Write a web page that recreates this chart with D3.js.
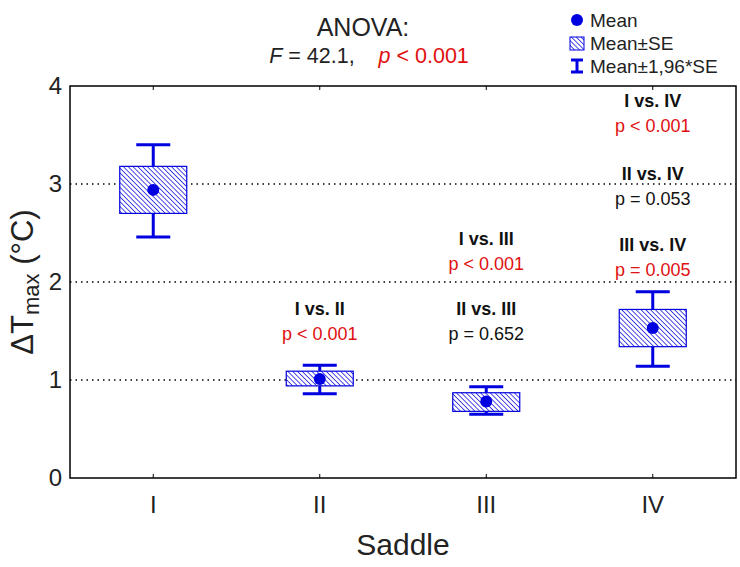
<!DOCTYPE html>
<html><head><meta charset="utf-8">
<script src="https://cdn.jsdelivr.net/npm/d3@7"></script>
<style>body{margin:0;background:#fff}text{font-family:"Liberation Sans",Arial,sans-serif}</style>
</head><body><svg id="c" width="740" height="567"></svg>
<script>
const categories = ["I","II","III","IV"];
const means   = [2.94, 1.01, 0.78, 1.53];
const seLow   = [2.70, 0.94, 0.68, 1.34];
const seHigh  = [3.18, 1.09, 0.87, 1.72];
const ciLow   = [2.46, 0.86, 0.65, 1.14];
const ciHigh  = [3.40, 1.15, 0.93, 1.90];
const yTicks  = [0,1,2,3,4];
const gridVals = [1,2,3];
const comparisons = [
  {cat:"II",  y:1.66, label:"I vs. II",   p:"p < 0.001", sig:true},
  {cat:"III", y:2.38, label:"I vs. III",  p:"p < 0.001", sig:true},
  {cat:"III", y:1.66, label:"II vs. III", p:"p = 0.652", sig:false},
  {cat:"IV",  y:3.79, label:"I vs. IV",   p:"p < 0.001", sig:true},
  {cat:"IV",  y:3.04, label:"II vs. IV",  p:"p = 0.053", sig:false},
  {cat:"IV",  y:2.32, label:"III vs. IV", p:"p = 0.005", sig:true}
];
const legendLabels = ["Mean","Mean±SE","Mean±1,96*SE"];

const svg = d3.select("#c");
const L=70, R=736, T=86, B=478;
const blue="#0000e0", red="#e01010";
const x = d3.scaleBand().domain(categories).range([L,R]);
const y = d3.scaleLinear().domain([0,4]).range([B,T]);

const defs = svg.append("defs");
const pat = defs.append("pattern").attr("id","hatch").attr("patternUnits","userSpaceOnUse")
  .attr("width",3.4).attr("height",3.4).attr("patternTransform","rotate(-45)");
pat.append("rect").attr("width",3.4).attr("height",3.4).attr("fill","#fff");
pat.append("line").attr("x1",0).attr("y1",0).attr("x2",0).attr("y2",3.4).attr("stroke",blue).attr("stroke-width",1.4);

// grid
svg.append("g").selectAll("line").data(gridVals).join("line")
  .attr("x1",L).attr("x2",R).attr("y1",d=>y(d)).attr("y2",d=>y(d))
  .attr("stroke","#000").attr("stroke-width",1.3).attr("stroke-dasharray","1.5,4");

// y axis labels
const ya = svg.append("g").attr("transform",`translate(${L},0)`)
  .call(d3.axisLeft(y).tickValues(yTicks).tickSize(0).tickPadding(8).tickFormat(d3.format("d")));
ya.select(".domain").remove();
ya.selectAll("text").attr("font-size",24).attr("fill","#222").attr("font-family","Liberation Sans, Arial, sans-serif");

// x axis
const xa = svg.append("g").attr("transform",`translate(0,${B})`)
  .call(d3.axisBottom(x).tickSize(-4).tickPadding(18));
xa.select(".domain").remove();
xa.selectAll("line").attr("stroke","#000");
xa.selectAll("text").attr("font-size",24).attr("fill","#222").attr("font-family","Liberation Sans, Arial, sans-serif");
const xt = svg.append("g").attr("transform",`translate(0,${T})`)
  .call(d3.axisTop(x).tickSize(-4).tickFormat(""));
xt.select(".domain").remove();
xt.selectAll("line").attr("stroke","#000");

// frame
svg.append("rect").attr("x",L).attr("y",T).attr("width",R-L).attr("height",B-T)
  .attr("fill","none").attr("stroke","#000").attr("stroke-width",1.5);

// boxes
const bw = 67, cw = 34;
const g = svg.append("g").selectAll("g").data(categories).join("g")
  .attr("transform",d=>`translate(${x(d)+x.bandwidth()/2},0)`);
g.append("line").attr("x1",0).attr("x2",0).attr("y1",(d,i)=>y(ciHigh[i])).attr("y2",(d,i)=>y(ciLow[i]))
  .attr("stroke",blue).attr("stroke-width",3);
g.append("rect").attr("x",-bw/2).attr("width",bw)
  .attr("y",(d,i)=>y(seHigh[i])).attr("height",(d,i)=>y(seLow[i])-y(seHigh[i]))
  .attr("fill","url(#hatch)").attr("stroke",blue).attr("stroke-width",1.2);
g.append("line").attr("x1",-cw/2).attr("x2",cw/2).attr("y1",(d,i)=>y(ciHigh[i])).attr("y2",(d,i)=>y(ciHigh[i]))
  .attr("stroke",blue).attr("stroke-width",3);
g.append("line").attr("x1",-cw/2).attr("x2",cw/2).attr("y1",(d,i)=>y(ciLow[i])).attr("y2",(d,i)=>y(ciLow[i]))
  .attr("stroke",blue).attr("stroke-width",3);
g.append("circle").attr("cx",0).attr("cy",(d,i)=>y(means[i])).attr("r",6).attr("fill",blue);

// annotations
const an = svg.append("g").selectAll("g").data(comparisons).join("g")
  .attr("transform",d=>`translate(${x(d.cat)+x.bandwidth()/2},${y(d.y)})`);
an.append("text").attr("text-anchor","middle").attr("font-size",18).attr("font-weight","bold")
  .attr("fill","#111").text(d=>d.label);
an.append("text").attr("text-anchor","middle").attr("font-size",18).attr("y",25)
  .attr("fill",d=>d.sig?red:"#111").text(d=>d.p);

// title
svg.append("text").attr("x",363).attr("y",36).attr("text-anchor","middle").attr("font-size",25).attr("fill","#222").text("ANOVA:");
const ft = svg.append("text").attr("x",369).attr("y",63).attr("text-anchor","middle").attr("font-size",21.5).attr("fill","#222").attr("xml:space","preserve");
ft.append("tspan").attr("font-style","italic").text("F");
ft.append("tspan").text(" = 42.1,    ");
ft.append("tspan").attr("font-style","italic").attr("fill",red).text("p");
ft.append("tspan").attr("fill",red).text(" < 0.001");

// axis titles
svg.append("text").attr("x",403).attr("y",555).attr("text-anchor","middle").attr("font-size",30).attr("fill","#222").text("Saddle");
const yl = svg.append("text").attr("transform",`translate(33,${(T+B)/2}) rotate(-90)`).attr("text-anchor","middle").attr("font-size",31).attr("fill","#222");
yl.append("tspan").text("ΔT");
yl.append("tspan").attr("font-size",22).attr("dy",6).text("max");
yl.append("tspan").attr("dy",-6).text(" (°C)");

// legend
const lg = svg.append("g");
lg.append("circle").attr("cx",577).attr("cy",20).attr("r",6).attr("fill",blue);
lg.append("rect").attr("x",570).attr("y",37).attr("width",14).attr("height",13).attr("fill","url(#hatch)").attr("stroke",blue).attr("stroke-width",1);
lg.append("line").attr("x1",577).attr("x2",577).attr("y1",60).attr("y2",72).attr("stroke",blue).attr("stroke-width",3);
lg.append("line").attr("x1",571).attr("x2",583).attr("y1",60).attr("y2",60).attr("stroke",blue).attr("stroke-width",3);
lg.append("line").attr("x1",571).attr("x2",583).attr("y1",72).attr("y2",72).attr("stroke",blue).attr("stroke-width",3);
lg.selectAll("text").data(legendLabels).join("text").attr("x",590).attr("y",(d,i)=>27+i*23)
  .attr("font-size",19).attr("fill","#222").text(d=>d);
</script></body></html>
